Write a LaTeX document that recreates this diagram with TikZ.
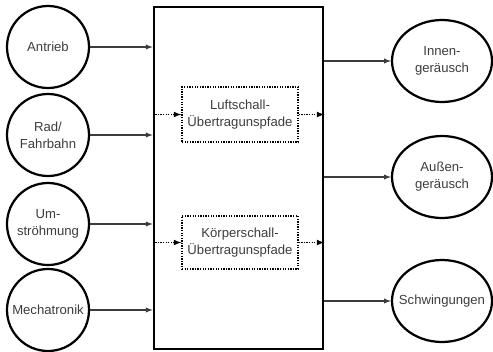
\documentclass[tikz,border=0pt]{standalone}
\usepackage{fontspec}
\setmainfont{Liberation Sans}
\usetikzlibrary{shapes.geometric,positioning}
\definecolor{txtgray}{HTML}{3C3C3C}
\newcommand{\lbl}{\fontsize{11.2}{14.5}\selectfont\color{txtgray}}

\begin{document}
\begin{tikzpicture}[
    src/.style={circle, draw, line width=1.9pt, minimum size=2.46cm, inner sep=0pt, align=center, font=\lbl},
    dst/.style={ellipse, draw, line width=1.9pt, minimum width=3cm, minimum height=2.46cm, inner sep=0pt, align=center, font=\lbl},
    dots/.style={line width=1.2pt, dash pattern=on 1.1pt off 1.1pt},
    path/.style={draw, dots, minimum width=3.48cm, align=center, font=\lbl},
    flow/.style={->, >=latex, line width=1pt, txtgray},
    >=latex]
         \useasboundingbox (0, 0) rectangle (14.79, 10.53);
         \node [draw, line width=2.3pt, minimum width=5.07cm, minimum height=10.26cm] (MB) at (7.155, 5.19) {};
         \node [src] (AN) at (1.44, 9.12) {Antrieb};
         \node [src] (RF) at (1.44, 6.48) {Rad/\\Fahrbahn};
         \node [src] (UM) at (1.44, 3.81) {Um-\\ströhmung};
         \node [src] (ME) at (1.44, 1.23) {Mechatronik};
         \node [path, minimum height=1.65cm] (LS) at (7.2, 7.095) {Luftschall-\\Übertragunspfade};
         \node [path, minimum height=1.59cm] (KS) at (7.2, 3.255) {Körperschall-\\Übertragunspfade};
         \node [dst] (IG) at (13.26, 8.70) {Innen-\\geräusch};
         \node [dst] (AG) at (13.26, 5.22) {Außen-\\geräusch};
         \node [dst] (SW) at (13.26, 1.50) {\makebox[0pt]{Schwingungen}};
         \foreach \n in {AN, RF, UM, ME}
             \draw [flow] (\n) -- (\n -| MB.west);
         \foreach \n in {IG, AG, SW}
             \draw [flow] (\n -| MB.east) -- (\n);
         \draw [flow, dots, black] (MB.west |- LS) -- (LS);
         \draw [flow, dots, black] (LS) -- (LS -| MB.east);
         \draw [flow, dots, black] (MB.west |- KS) -- (KS);
         \draw [flow, dots, black] (KS) -- (KS -| MB.east);
\end{tikzpicture}
\end{document}
